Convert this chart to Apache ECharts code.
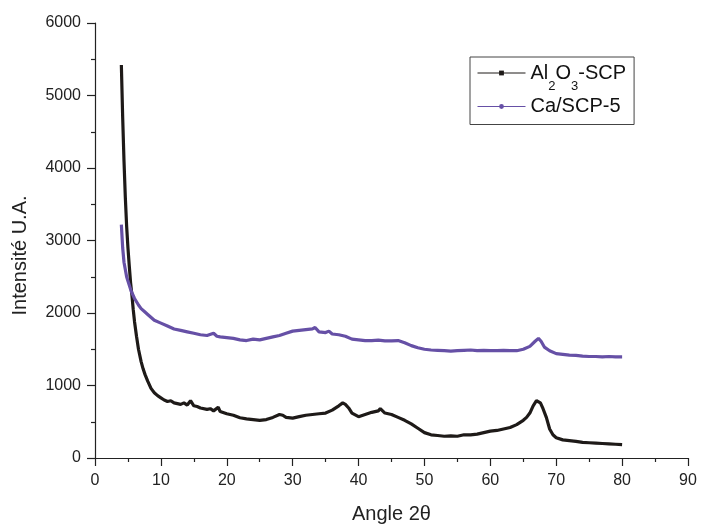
<!DOCTYPE html>
<html><head><meta charset="utf-8">
<script src="https://cdn.jsdelivr.net/npm/echarts@6/dist/echarts.min.js"></script>
<style>html,body{margin:0;padding:0;background:#fff}#c{width:703px;height:529px}</style>
</head><body><div id="c"></div>
<script>
// Al2O3-SCP (black)
const alX = [4.0,4.2,4.4,4.6,4.8,5.0,5.2,5.4,5.6,5.8,6.0,6.3,6.6,7.0,7.3,7.6,8.0,8.5,9.0,9.5,10.0,10.5,11,11.5,12,12.5,13,13.5,14,14.5,14.7,15,15.5,16,17,17.5,18,18.7,19,20,21,22,23,24,25,26,27,28,28.5,29,30,31,32,33,34,35,36,37,37.6,38,38.5,39,40,41,42,43,43.3,44,45,46,47,48,49,50,51,52,53,54,55,56,57,58,59,60,61,62,63,64,65,65.5,66,66.5,67,67.3,67.6,68,68.5,69,69.5,70,71,72,73,74,75,76,77,78,79,80];
const alY = [5420,4700,4100,3600,3200,2900,2650,2420,2250,2050,1880,1680,1500,1330,1230,1150,1060,960,900,860,830,800,780,790,760,750,740,760,730,790,800,720,710,690,670,680,650,700,640,610,590,555,540,530,520,530,560,600,590,560,550,570,590,600,610,620,660,720,760,740,690,620,570,600,630,650,680,620,600,560,520,470,410,350,320,310,300,305,300,320,320,330,350,370,380,400,420,460,520,560,620,720,790,800,760,680,560,400,320,280,250,240,230,215,210,205,200,195,190,185];
// Ca/SCP-5 (purple)
const caX = [4.0,4.2,4.4,4.6,4.8,5.0,5.5,6.0,6.6,7,7.5,8,9,10,11,12,13,14,15,16,17,18,18.5,19,20,21,22,23,24,25,26,27,28,29,30,31,32,33,33.4,34,35,35.5,36,37,38,39,40,41,42,43,44,45,46,47,48,49,50,51,52,53,54,55,56,57,58,59,60,61,62,63,64,65,66,66.8,67.3,67.7,68.2,69,70,71,72,73,74,75,76,77,78,79,80];
const caY = [3220,2900,2700,2600,2500,2440,2300,2200,2110,2060,2020,1980,1900,1860,1820,1780,1760,1740,1720,1700,1690,1720,1680,1670,1660,1650,1630,1620,1640,1630,1650,1670,1690,1720,1750,1760,1770,1780,1800,1740,1730,1750,1710,1700,1680,1640,1630,1620,1620,1625,1615,1615,1620,1590,1550,1520,1500,1490,1485,1480,1475,1480,1485,1490,1480,1485,1480,1480,1485,1480,1480,1500,1540,1610,1650,1610,1530,1480,1440,1430,1420,1415,1405,1400,1400,1395,1400,1395,1395];
const seriesNames = ['Al2O3-SCP', 'Ca/SCP-5'];
const xTicks = [0,10,20,30,40,50,60,70,80,90];
const yTicks = [0,1000,2000,3000,4000,5000,6000];

const pairs = (xs, ys) => xs.map((x, i) => [x, ys[i]]);
const font = 'Liberation Sans, Arial, sans-serif';
const axisCol = '#222';
const chart = echarts.init(document.getElementById('c'), null, {renderer: 'canvas'});
chart.setOption({
  animation: false,
  backgroundColor: '#fff',
  grid: {left: 95, right: 15, top: 23, bottom: 68, containLabel: false},
  legend: {
    orient: 'vertical', left: 470, top: 57,
    data: seriesNames,
    borderColor: '#444', borderWidth: 1, padding: [6, 8, 8, 7],
    itemWidth: 48, itemHeight: 6, itemGap: 4,
    lineStyle: {width: 1},
    textStyle: {fontFamily: font, fontSize: 20, color: '#111',
      rich: {n: {fontFamily: font, fontSize: 20, color: '#111'},
             s: {fontFamily: font, fontSize: 13, color: '#111', padding: [13, 0, -13, 0]}}},
    formatter: n => n === 'Al2O3-SCP' ? '{n|Al}{s|2}{n|O}{s|3}{n|-SCP}' : '{n|' + n + '}'
  },
  xAxis: {
    type: 'value', min: xTicks[0], max: xTicks[xTicks.length-1], interval: 10,
    name: 'Angle 2θ', nameLocation: 'middle', nameGap: 46,
    nameTextStyle: {fontFamily: font, fontSize: 20, color: axisCol},
    axisLine: {show: true, lineStyle: {color: axisCol, width: 1.2}},
    axisTick: {show: true, length: 8, lineStyle: {color: axisCol, width: 1.2}},
    minorTick: {show: true, splitNumber: 2, length: 4, lineStyle: {color: axisCol, width: 1.2}},
    axisLabel: {fontFamily: font, fontSize: 16, color: axisCol, margin: 15},
    splitLine: {show: false}
  },
  yAxis: {
    type: 'value', min: yTicks[0], max: yTicks[yTicks.length-1], interval: 1000,
    name: 'Intensité U.A.', nameLocation: 'middle', nameGap: 65, nameRotate: 90,
    nameTextStyle: {fontFamily: font, fontSize: 20, color: axisCol, padding: [0, 30, 0, 0]},
    axisLine: {show: true, lineStyle: {color: axisCol, width: 1.2}},
    axisTick: {show: true, length: 8, lineStyle: {color: axisCol, width: 1.2}},
    minorTick: {show: true, splitNumber: 2, length: 4, lineStyle: {color: axisCol, width: 1.2}},
    axisLabel: {fontFamily: font, fontSize: 16, color: axisCol, margin: 14, formatter: v => String(v)},
    splitLine: {show: false}
  },
  series: [
    {name: seriesNames[0], type: 'line', data: pairs(alX, alY), showSymbol: false,
     symbol: 'rect', symbolSize: 5, color: '#1e1a18',
     lineStyle: {width: 3.2, color: '#1e1a18'}},
    {name: seriesNames[1], type: 'line', data: pairs(caX, caY), showSymbol: false,
     symbol: 'circle', symbolSize: 5, color: '#6650a6',
     lineStyle: {width: 3.2, color: '#6650a6'}}
  ]
});
</script></body></html>
